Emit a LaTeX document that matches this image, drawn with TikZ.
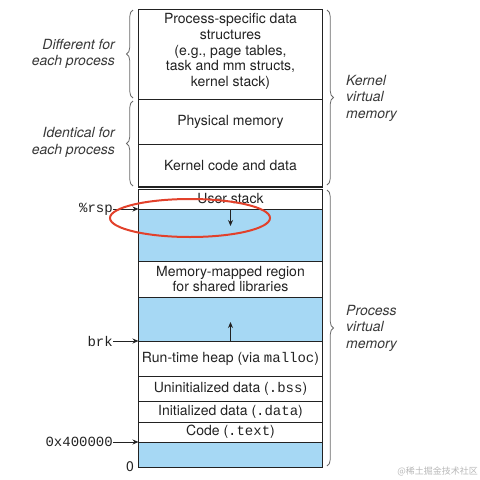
\documentclass[tikz,border=0pt]{standalone}
\usepackage{fontspec}
\setmainfont{TeX Gyre Heros}
\setmonofont{Liberation Mono}
\newfontfamily\cjk{Noto Sans CJK SC}
\usetikzlibrary{decorations.pathreplacing,arrows.meta}
\definecolor{gapblue}{HTML}{A6D8F4}
\definecolor{ink}{HTML}{222222}
\definecolor{bracegray}{HTML}{6A6A6A}
\definecolor{circred}{HTML}{E2412B}
\begin{document}
\begin{tikzpicture}[x=1pt,y=-1pt,
  region/.style={draw=ink, line width=0.9pt, minimum width=184pt, anchor=north west,
    inner sep=0pt, outer sep=0pt, font=\fontsize{14}{15.8}\selectfont, align=center, text=ink},
  gapregion/.style={region, fill=gapblue},
  side/.style={font=\fontsize{14}{16.5}\selectfont\itshape, text=ink!90, inner sep=0pt},
  lbl/.style={font=\fontsize{14}{16}\selectfont, text=ink, inner sep=0pt, anchor=east},
  ptr/.style={draw=ink, line width=1pt, -{Stealth[length=6pt,width=5pt]}},
  bracestyle/.style={draw=bracegray, line width=0.8pt, decorate, decoration={brace, amplitude=6.5pt}}
]
\useasboundingbox (0,0) rectangle (480,480);

% kernel part
\node[region, minimum height=90.5pt] (pds) at (138.5,9) {};
\node[font=\fontsize{14}{15.8}\selectfont, align=center, text=ink] (pdst) at (230.5,51.5)
  {Process-specific data\\structures\\(e.g., page tables,\\task and mm structs,\\kernel stack)};
\node[region, minimum height=44.5pt] (phys) at (138.5,99.5) {Physical memory};
\node[region, minimum height=43pt] (kcode) at (138.5,144) {Kernel code and data};
\draw[ink, line width=2.4pt] (kcode.south west) -- (kcode.south east);

% process part
\node[region, minimum height=20pt] (ustack) at (138.5,189) {User stack};
\node[gapregion, minimum height=52pt] (gap1) at (138.5,209) {};
\node[region, minimum height=36pt] (mmap) at (138.5,261) {Memory-mapped region\\for shared libraries};
\node[gapregion, minimum height=44pt] (gap2) at (138.5,297) {};
\node[region, minimum height=35pt] (heap) at (138.5,341) {Run-time heap (via \texttt{malloc})};
\node[region, minimum height=25pt] (bss) at (138.5,376) {Uninitialized data (\texttt{.bss})};
\node[region, minimum height=21pt] (data) at (138.5,401) {Initialized data (\texttt{.data})};
\node[region, minimum height=20pt] (code) at (138.5,422) {Code (\texttt{.text})};
\node[gapregion, minimum height=25pt] (gap3) at (138.5,442) {};

% growth arrows
\draw[ptr] (gap1.north) -- ++(0,17);
\draw[ptr] (gap2.south) -- ++(0,-19);

% pointers
\node[lbl] (rsp) at (113,209) {\ttfamily\%rsp};
\node[lbl] (brk) at (113,341) {\ttfamily brk};
\node[lbl] (addr) at (113,442) {\ttfamily 0x400000};
\node[lbl] (zero) at (134,467) {0};
\draw[ptr] (rsp.east) -- (gap1.north west);
\draw[ptr] (brk.east) -- (heap.north west);
\draw[ptr] (addr.east) -- (gap3.north west);

% braces
\draw[bracestyle] (133,98) -- (133,10);
\draw[bracestyle] (133,186) -- (133,101);
\draw[bracestyle] (327,10) -- (327,185);
\draw[bracestyle] (327,190) -- (327,466);

% side labels
\node[side, anchor=east, align=right] (diff) at (115,54) {Different for\\each process};
\node[side, anchor=east, align=right] (ident) at (115,142.5) {Identical for\\each process};
\node[side, anchor=west, align=left] (kvm) at (346,98) {Kernel\\virtual\\memory};
\node[side, anchor=west, align=left] (pvm) at (346,328) {Process\\virtual\\memory};

% highlight
\draw[circred, line width=2pt] (190,218) ellipse [x radius=80, y radius=19];

% watermark
\node[font=\cjk\fontsize{9}{9}\selectfont, text=black!28, anchor=east, inner sep=0pt] (wm) at (478,471) {@稀土掘金技术社区};
\end{tikzpicture}
\end{document}
